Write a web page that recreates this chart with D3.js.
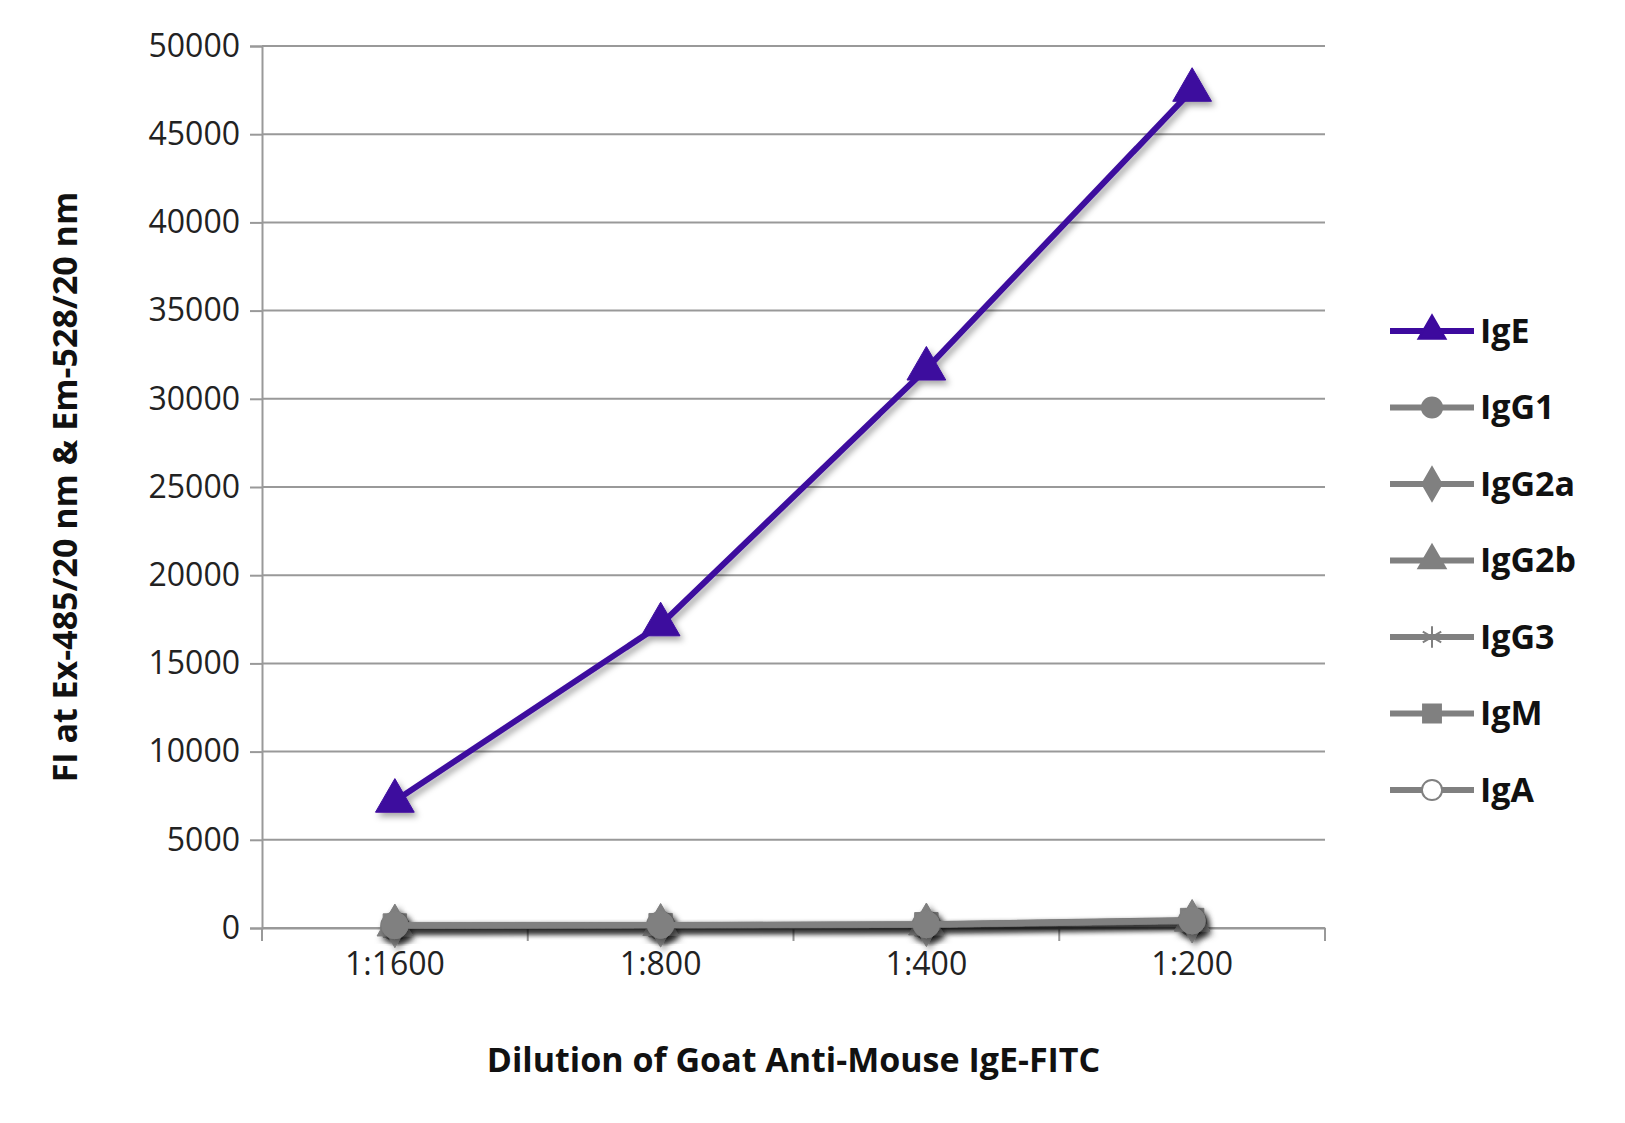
<!DOCTYPE html>
<html><head><meta charset="utf-8">
<script src="https://cdn.jsdelivr.net/npm/d3@7"></script>
<style>body{margin:0;background:#fff;font-family:"Open Sans",sans-serif}</style>
</head><body>
<svg id="chart" width="1625" height="1123"></svg>
<script>
// dilution categories
var dilutions = ["1:1600", "1:800", "1:400", "1:200"];
var yTicks = [0, 5000, 10000, 15000, 20000, 25000, 30000, 35000, 40000, 45000, 50000];
var seriesNames = ["IgE", "IgG1", "IgG2a", "IgG2b", "IgG3", "IgM", "IgA"];
var igE = [7200, 17200, 31700, 47500];
var igG1 = [150, 170, 200, 420];
var igG2a = [120, 150, 180, 380];
var igG2b = [130, 160, 190, 400];
var igG3 = [110, 140, 170, 360];
var igM = [140, 160, 210, 450];
var igA = [100, 130, 160, 350];
var allValues = [igE, igG1, igG2a, igG2b, igG3, igM, igA];
var symbols = [d3.symbolTriangle, d3.symbolCircle, d3.symbolDiamond, d3.symbolTriangle, d3.symbolAsterisk, d3.symbolSquare, d3.symbolCircle];

var svg = d3.select("#chart");
var mLeft = 262, mRight = 1325, mTop = 46, mBottom = 928;

var x = d3.scaleBand().domain(dilutions).range([mLeft, mRight]);
var y = d3.scaleLinear().domain([0, 50000]).range([mBottom, mTop]);

var defs = svg.append("defs");
var f = defs.append("filter").attr("id", "shadow").attr("x", "-20%").attr("y", "-20%").attr("width", "140%").attr("height", "140%");
f.append("feDropShadow").attr("dx", 3).attr("dy", 4).attr("stdDeviation", 3).attr("flood-color", "#000").attr("flood-opacity", 0.35);

// gridlines
svg.append("g").selectAll("line").data(yTicks).enter().append("line")
    .attr("x1", mLeft).attr("x2", mRight)
    .attr("y1", function (d) { return y(d); }).attr("y2", function (d) { return y(d); })
    .attr("stroke", "#999").attr("stroke-width", 2);

// y axis
var yAxis = svg.append("g").attr("transform", "translate(" + mLeft + ",0)")
    .call(d3.axisLeft(y).tickValues(yTicks).tickSize(12).tickPadding(10).tickFormat(d3.format("d")));
yAxis.select(".domain").attr("stroke", "#999").attr("stroke-width", 2);
yAxis.selectAll(".tick line").attr("stroke", "#999").attr("stroke-width", 2);
yAxis.selectAll("text").attr("font-size", 32).attr("fill", "#222").attr("font-family", "Open Sans");

// x axis
var xAxis = svg.append("g").attr("transform", "translate(0," + mBottom + ")")
    .call(d3.axisBottom(x).tickSize(0).tickPadding(24));
xAxis.select(".domain").attr("stroke", "#999").attr("stroke-width", 2);
xAxis.selectAll("text").attr("font-size", 32).attr("fill", "#222").attr("font-family", "Open Sans");
svg.append("g").selectAll("line").data(d3.range(dilutions.length + 1)).enter().append("line")
    .attr("x1", function (i) { return mLeft + i * x.step(); }).attr("x2", function (i) { return mLeft + i * x.step(); })
    .attr("y1", mBottom).attr("y2", mBottom + 13).attr("stroke", "#999").attr("stroke-width", 2);

var line = d3.line().x(function (d, i) { return x(dilutions[i]) + x.bandwidth() / 2; }).y(function (d) { return y(d); });

// draw gray series first, then IgE on top
for (var s = allValues.length - 1; s >= 0; s--) {
    var col = s === 0 ? "#3d0a9e" : "#808080";
    var g = svg.append("g").attr("filter", "url(#shadow)");
    g.append("path").datum(allValues[s]).attr("d", line).attr("fill", "none").attr("stroke", col).attr("stroke-width", 6);
    g.selectAll("path.m").data(allValues[s]).enter().append("path").attr("class", "m")
        .attr("d", d3.symbol().type(symbols[s]).size(s === 0 ? 650 : 550))
        .attr("transform", function (d, i) { return "translate(" + (x(dilutions[i]) + x.bandwidth() / 2) + "," + y(d) + ")"; })
        .attr("fill", s === 6 ? "#fff" : col).attr("stroke", col).attr("stroke-width", s === 4 || s === 6 ? 3 : 1);
}

// legend
var leg = svg.append("g").selectAll("g").data(seriesNames).enter().append("g")
    .attr("transform", function (d, i) { return "translate(1390," + (331 + i * 76.5) + ")"; });
leg.append("line").attr("x1", 0).attr("x2", 84).attr("stroke", function (d, i) { return i === 0 ? "#3d0a9e" : "#808080"; }).attr("stroke-width", 6);
leg.append("path").attr("transform", "translate(42,0)")
    .attr("d", function (d, i) { return d3.symbol().type(symbols[i]).size(320)(); })
    .attr("fill", function (d, i) { return i === 6 ? "#fff" : (i === 0 ? "#3d0a9e" : "#808080"); })
    .attr("stroke", function (d, i) { return i === 0 ? "#3d0a9e" : "#808080"; }).attr("stroke-width", 2);
leg.append("text").attr("x", 90).attr("dy", "0.35em").attr("font-size", 34).attr("font-weight", "bold").attr("fill", "#111")
    .text(function (d) { return d; });

// axis titles
svg.append("text").attr("x", (mLeft + mRight) / 2).attr("y", 1072).attr("text-anchor", "middle")
    .attr("font-size", 34).attr("font-weight", "bold").attr("fill", "#111").text("Dilution of Goat Anti-Mouse IgE-FITC");
svg.append("text").attr("transform", "translate(77," + (mTop + mBottom) / 2 + ") rotate(-90)").attr("text-anchor", "middle")
    .attr("font-size", 34).attr("font-weight", "bold").attr("fill", "#111").text("FI at Ex-485/20 nm & Em-528/20 nm");
</script>
</body></html>
